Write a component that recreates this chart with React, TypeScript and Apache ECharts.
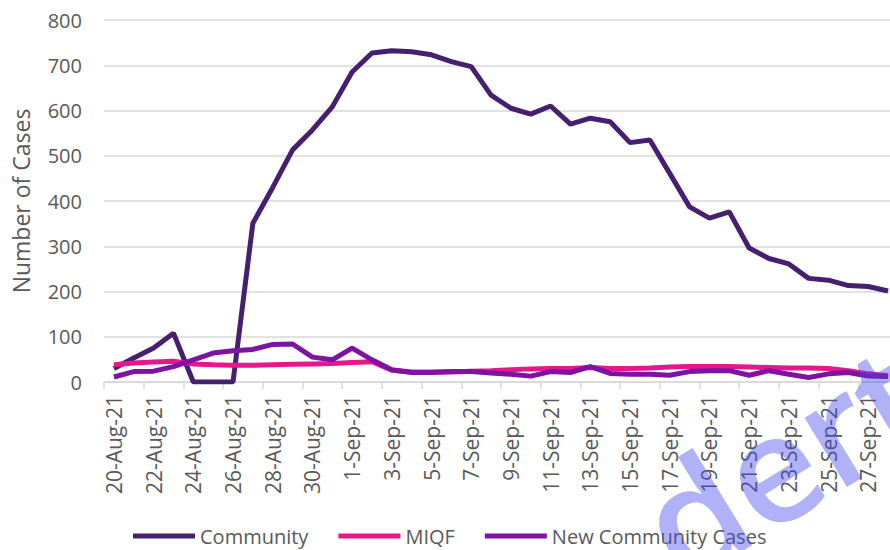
import React, { useEffect, useRef } from "react";
import * as echarts from "echarts";

const categories = [
  "20-Aug-21", "21-Aug-21", "22-Aug-21", "23-Aug-21", "24-Aug-21", "25-Aug-21",
  "26-Aug-21", "27-Aug-21", "28-Aug-21", "29-Aug-21", "30-Aug-21", "31-Aug-21",
  "1-Sep-21", "2-Sep-21", "3-Sep-21", "4-Sep-21", "5-Sep-21", "6-Sep-21",
  "7-Sep-21", "8-Sep-21", "9-Sep-21", "10-Sep-21", "11-Sep-21", "12-Sep-21",
  "13-Sep-21", "14-Sep-21", "15-Sep-21", "16-Sep-21", "17-Sep-21", "18-Sep-21",
  "19-Sep-21", "20-Sep-21", "21-Sep-21", "22-Sep-21", "23-Sep-21", "24-Sep-21",
  "25-Sep-21", "26-Sep-21", "27-Sep-21", "28-Sep-21",
];

const community = [
  30, 53, 75, 108, 0, 0, 0, 351, 430, 513, 557, 608,
  685, 727, 732, 730, 723, 708, 697, 634, 605, 592, 610, 570, 583, 575,
  529, 535, 461, 387, 362, 376, 296, 273, 261, 229, 225, 213, 211, 201,
];

const miqf = [
  38, 42, 44, 46, 40, 38, 37, 37, 38, 39, 40, 41,
  43, 45, 26, 22, 22, 22, 24, 25, 27, 29, 30, 30, 32, 30,
  30, 31, 33, 34, 34, 34, 33, 32, 31, 31, 30, 25, 18, 14,
];

const newCommunity = [
  11, 23, 24, 34, 49, 64, 69, 72, 83, 84, 55, 49,
  75, 49, 27, 21, 21, 23, 23, 20, 17, 13, 23, 21, 34, 19,
  17, 17, 15, 23, 25, 25, 15, 25, 17, 10, 18, 21, 13, 12,
];

const yTicks = { min: 0, max: 800, interval: 100 };

const FONT = "'Open Sans', 'DejaVu Sans', sans-serif";
const TEXT = "#595959";
const GRID = "#d9d9d9";

export default function App() {
  const ref = useRef<HTMLDivElement>(null);

  useEffect(() => {
    if (!ref.current) return;
    const chart = echarts.init(ref.current, undefined, { renderer: "svg" });
    chart.setOption({
      animation: false,
      textStyle: { fontFamily: FONT },
      grid: { left: 104, right: 2, top: 20, bottom: 168 },
      legend: {
        left: 128,
        top: 521,
        itemWidth: 62,
        itemHeight: 5,
        itemGap: 30,
        icon: "rect",
        textStyle: { fontSize: 20, color: TEXT, fontFamily: FONT },
        data: ["Community", "MIQF", "New Community Cases"],
      },
      xAxis: {
        type: "category",
        data: categories,
        boundaryGap: true,
        axisLine: { show: true, lineStyle: { color: GRID, width: 1.5 } },
        axisTick: { show: true, interval: 1, length: 7, lineStyle: { color: GRID, width: 1.5 } },
        axisLabel: {
          interval: 1,
          rotate: 90,
          margin: 13,
          fontSize: 21,
          color: TEXT,
          fontFamily: FONT,
        },
        splitLine: { show: false },
      },
      yAxis: {
        type: "value",
        min: yTicks.min,
        max: yTicks.max,
        interval: yTicks.interval,
        name: "Number of Cases",
        nameLocation: "middle",
        nameGap: 72,
        nameTextStyle: { fontSize: 23, color: TEXT, fontFamily: FONT },
        axisLine: { show: false },
        axisTick: { show: false },
        axisLabel: { margin: 22, fontSize: 20, color: TEXT, fontFamily: FONT },
        splitLine: { lineStyle: { color: GRID, width: 1.5 } },
      },
      series: [
        {
          name: "Community",
          type: "line",
          data: community,
          symbol: "none",
          lineStyle: { color: "#45206e", width: 5 },
          itemStyle: { color: "#45206e" },
        },
        {
          name: "MIQF",
          type: "line",
          data: miqf,
          symbol: "none",
          lineStyle: { color: "#e6168c", width: 5 },
          itemStyle: { color: "#e6168c" },
        },
        {
          name: "New Community Cases",
          type: "line",
          data: newCommunity,
          symbol: "none",
          lineStyle: { color: "#7e13a3", width: 5 },
          itemStyle: { color: "#7e13a3" },
        },
      ],
      graphic: [
        {
          type: "text",
          x: 692,
          y: 602,
          rotation: 0.55,
          z: 100,
          silent: true,
          style: {
            text: "dert",
            fontSize: 150,
            fontWeight: 600,
            fontFamily: FONT,
            fill: "rgba(70,70,235,0.42)",
            verticalAlign: "bottom",
          },
        },
      ],
    });
    return () => chart.dispose();
  }, []);

  return (
    <div style={{ position: "fixed", left: 0, top: 0, width: 890, height: 550, overflow: "hidden", background: "#fff" }}>
      <div ref={ref} style={{ width: 900, height: 550 }} />
    </div>
  );
}
